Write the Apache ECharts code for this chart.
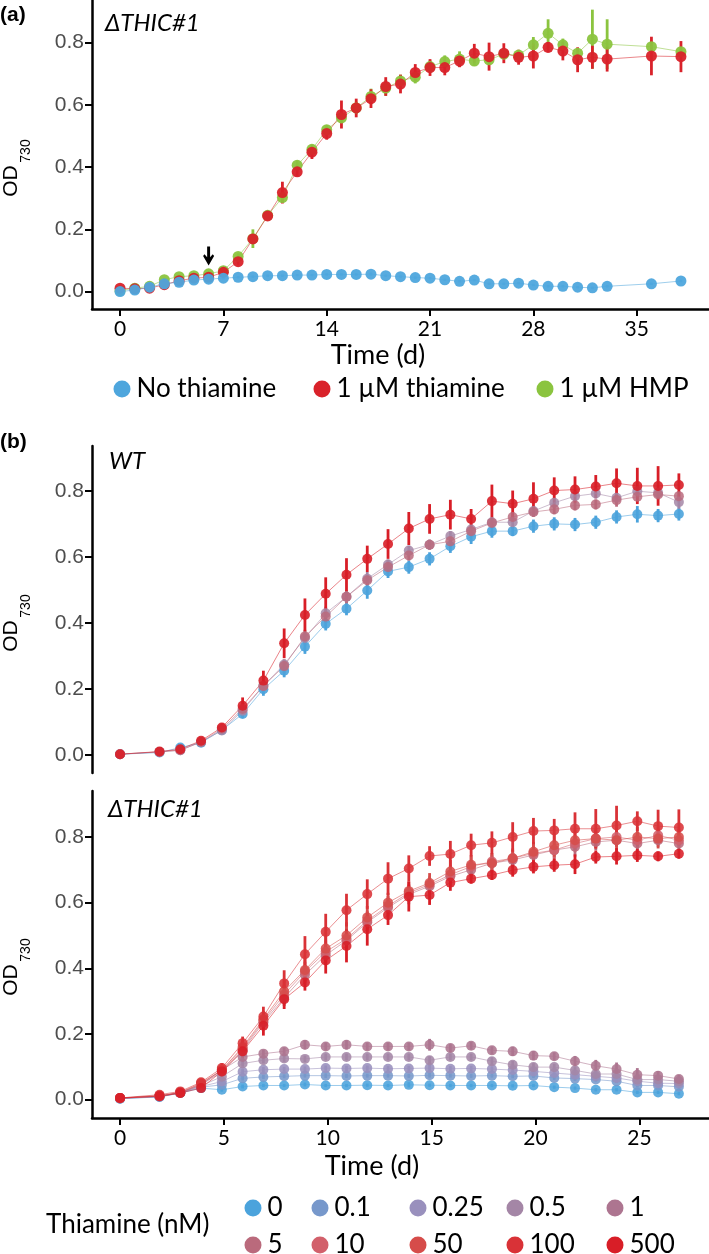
<!DOCTYPE html>
<html>
<head>
<meta charset="utf-8">
<style>
  html, body { margin: 0; padding: 0; background: #fff; }
  #chart { width: 709px; height: 1254px; }
</style>
</head>
<body>
<div id="chart"></div>
<script src="https://cdn.jsdelivr.net/npm/echarts@6.0.0/dist/echarts.min.js"></script>
<script>
// ---- panel (a): dTHIC#1, 1 uM supplements ----
var daysA = [0,1,2,3,4,5,6,7,8,9,10,11,12,13,14,15,16,17,18,19,20,21,22,23,24,25,26,27,28,29,30,31,32,33,36,38];
var noThiamine = [0.000,0.005,0.014,0.025,0.030,0.037,0.040,0.043,0.046,0.048,0.051,0.051,0.053,0.053,0.055,0.055,0.055,0.056,0.051,0.048,0.045,0.043,0.038,0.033,0.037,0.025,0.025,0.027,0.021,0.017,0.017,0.014,0.012,0.017,0.025,0.034];
var noThiamineErr = [0.004,0.004,0.004,0.005,0.004,0.004,0.005,0.004,0.004,0.004,0.004,0.004,0.004,0.004,0.004,0.004,0.004,0.005,0.004,0.004,0.004,0.004,0.004,0.004,0.004,0.004,0.004,0.004,0.004,0.004,0.004,0.004,0.004,0.004,0.004,0.004];
var thiamine1uM = [0.011,0.009,0.011,0.022,0.035,0.043,0.046,0.062,0.096,0.169,0.243,0.318,0.385,0.448,0.508,0.569,0.590,0.620,0.659,0.667,0.704,0.720,0.720,0.741,0.766,0.755,0.766,0.753,0.757,0.785,0.773,0.745,0.753,0.747,0.757,0.755];
var thiamine1uMErr = [0.005,0.005,0.005,0.005,0.005,0.005,0.005,0.008,0.012,0.015,0.015,0.035,0.015,0.022,0.020,0.045,0.030,0.030,0.030,0.030,0.027,0.027,0.025,0.020,0.030,0.045,0.032,0.024,0.040,0.017,0.030,0.040,0.037,0.040,0.062,0.050];
var hmp1uM = [0.003,0.011,0.017,0.038,0.048,0.051,0.057,0.067,0.113,0.170,0.245,0.302,0.406,0.457,0.520,0.558,0.590,0.627,0.654,0.677,0.689,0.723,0.739,0.747,0.741,0.745,0.763,0.760,0.793,0.830,0.793,0.766,0.811,0.795,0.787,0.771];
var hmp1uMErr = [0.004,0.004,0.004,0.006,0.006,0.006,0.006,0.008,0.010,0.030,0.010,0.015,0.015,0.015,0.015,0.015,0.020,0.025,0.025,0.020,0.020,0.020,0.020,0.025,0.015,0.010,0.010,0.015,0.025,0.045,0.020,0.015,0.095,0.080,0.015,0.010];
var ticksA = [0,7,14,21,28,35];

// ---- panel (b): thiamine titration ----
var daysB = [0,1.9,2.9,3.9,4.9,5.9,6.9,7.9,8.9,9.9,10.9,11.9,12.9,13.9,14.9,15.9,16.9,17.9,18.9,19.9,20.9,21.9,22.9,23.9,24.9,25.9,26.9];
var ticksB = [0,5,10,15,20,25];
var ticksY = [0,0.2,0.4,0.6,0.8];
var levels = ['0','0.1','0.25','0.5','1','5','10','50','100','500'];
var levelColors = ['#4BA3DC','#7798CB','#9990BD','#A486A6','#AD7590','#BA6A7C','#D2606B','#D64C4A','#D93237','#D81E27'];

// WT
var wt0 = [0.003,0.008,0.023,0.038,0.076,0.125,0.200,0.256,0.329,0.398,0.444,0.499,0.557,0.570,0.595,0.633,0.662,0.679,0.679,0.694,0.701,0.699,0.706,0.722,0.730,0.726,0.731];
var wt0Err = [0.004,0.005,0.006,0.006,0.008,0.012,0.020,0.020,0.022,0.020,0.020,0.025,0.020,0.020,0.020,0.020,0.022,0.020,0.015,0.020,0.020,0.020,0.020,0.020,0.025,0.020,0.020];
var wt05 = [0.003,0.010,0.015,0.040,0.075,0.135,0.210,0.275,0.355,0.430,0.480,0.535,0.578,0.620,0.638,0.664,0.684,0.706,0.706,0.740,0.765,0.785,0.793,0.780,0.800,0.795,0.767];
var wt05Err = [0.004,0.005,0.005,0.006,0.008,0.010,0.015,0.015,0.020,0.020,0.015,0.020,0.015,0.015,0.015,0.015,0.015,0.015,0.020,0.015,0.015,0.015,0.015,0.015,0.015,0.015,0.020];
var wt5 = [0.003,0.010,0.015,0.040,0.080,0.140,0.210,0.270,0.360,0.420,0.480,0.530,0.570,0.605,0.638,0.648,0.679,0.704,0.722,0.737,0.745,0.757,0.760,0.773,0.783,0.790,0.785];
var wt5Err = [0.004,0.005,0.005,0.006,0.008,0.012,0.015,0.020,0.020,0.020,0.020,0.015,0.020,0.015,0.015,0.015,0.015,0.015,0.015,0.015,0.015,0.015,0.015,0.020,0.015,0.015,0.015];
var wt500 = [0.003,0.011,0.018,0.044,0.084,0.150,0.226,0.339,0.425,0.489,0.547,0.595,0.640,0.687,0.716,0.729,0.716,0.770,0.762,0.777,0.802,0.805,0.814,0.824,0.816,0.816,0.819];
var wt500Err = [0.005,0.005,0.006,0.008,0.012,0.025,0.030,0.045,0.050,0.050,0.050,0.040,0.045,0.050,0.045,0.045,0.030,0.050,0.040,0.050,0.040,0.040,0.035,0.045,0.055,0.060,0.035];

// dTHIC#1
var th0 = [0.003,0.008,0.020,0.035,0.030,0.040,0.043,0.043,0.046,0.043,0.043,0.044,0.043,0.045,0.044,0.043,0.043,0.043,0.042,0.043,0.038,0.035,0.030,0.030,0.022,0.022,0.018];
var th0Err = [0.003,0.004,0.006,0.006,0.006,0.006,0.005,0.005,0.006,0.005,0.005,0.005,0.005,0.008,0.005,0.005,0.005,0.005,0.005,0.005,0.005,0.005,0.005,0.005,0.005,0.005,0.005];
var th01 = [0.003,0.009,0.020,0.038,0.045,0.065,0.069,0.071,0.073,0.073,0.072,0.073,0.073,0.072,0.074,0.073,0.072,0.073,0.071,0.072,0.066,0.064,0.061,0.056,0.043,0.043,0.039];
var th01Err = [0.003,0.004,0.006,0.006,0.006,0.007,0.006,0.006,0.006,0.007,0.006,0.006,0.006,0.006,0.007,0.006,0.006,0.006,0.006,0.006,0.006,0.007,0.006,0.006,0.006,0.006,0.006];
var th025 = [0.004,0.009,0.021,0.040,0.055,0.085,0.091,0.093,0.093,0.096,0.095,0.096,0.094,0.095,0.096,0.094,0.095,0.093,0.090,0.086,0.081,0.076,0.071,0.066,0.056,0.050,0.049];
var th025Err = [0.003,0.004,0.006,0.007,0.008,0.008,0.008,0.007,0.008,0.008,0.008,0.008,0.008,0.008,0.010,0.008,0.008,0.008,0.008,0.008,0.008,0.008,0.008,0.010,0.008,0.008,0.008];
var th05 = [0.004,0.010,0.021,0.042,0.070,0.110,0.120,0.125,0.124,0.130,0.130,0.130,0.130,0.130,0.120,0.130,0.130,0.117,0.106,0.099,0.099,0.089,0.078,0.078,0.061,0.061,0.056];
var th05Err = [0.003,0.004,0.006,0.007,0.008,0.010,0.010,0.010,0.010,0.010,0.010,0.010,0.010,0.010,0.012,0.010,0.010,0.012,0.012,0.012,0.010,0.010,0.012,0.012,0.012,0.010,0.010];
var th1 = [0.005,0.010,0.022,0.045,0.090,0.130,0.140,0.147,0.167,0.162,0.167,0.162,0.162,0.162,0.167,0.157,0.164,0.150,0.147,0.134,0.132,0.117,0.103,0.093,0.076,0.073,0.063];
var th1Err = [0.003,0.004,0.006,0.008,0.010,0.012,0.012,0.012,0.014,0.012,0.014,0.012,0.012,0.012,0.018,0.012,0.012,0.012,0.014,0.014,0.012,0.016,0.018,0.020,0.020,0.014,0.012];
var th5 = [0.004,0.011,0.020,0.045,0.085,0.150,0.235,0.310,0.380,0.440,0.485,0.540,0.585,0.625,0.650,0.680,0.700,0.720,0.730,0.745,0.760,0.770,0.785,0.790,0.780,0.790,0.780];
var th5Err = [0.004,0.005,0.007,0.010,0.012,0.018,0.020,0.025,0.030,0.030,0.030,0.030,0.030,0.030,0.025,0.030,0.025,0.025,0.020,0.025,0.025,0.030,0.025,0.020,0.025,0.020,0.020];
var th10 = [0.004,0.011,0.021,0.048,0.090,0.155,0.240,0.320,0.390,0.450,0.490,0.545,0.590,0.630,0.655,0.685,0.710,0.725,0.735,0.750,0.760,0.780,0.795,0.800,0.790,0.805,0.790];
var th10Err = [0.004,0.005,0.007,0.010,0.012,0.020,0.020,0.030,0.030,0.035,0.035,0.030,0.030,0.025,0.025,0.030,0.030,0.025,0.025,0.030,0.030,0.025,0.025,0.030,0.025,0.025,0.020];
var th50 = [0.005,0.012,0.022,0.050,0.090,0.160,0.245,0.330,0.395,0.460,0.500,0.555,0.600,0.635,0.660,0.695,0.715,0.720,0.735,0.755,0.775,0.790,0.795,0.790,0.800,0.795,0.800];
var th50Err = [0.004,0.005,0.007,0.010,0.015,0.020,0.025,0.035,0.040,0.040,0.040,0.035,0.030,0.030,0.030,0.035,0.030,0.030,0.030,0.030,0.035,0.030,0.030,0.035,0.030,0.030,0.025];
var th100 = [0.005,0.015,0.025,0.053,0.096,0.172,0.253,0.354,0.443,0.511,0.577,0.626,0.673,0.704,0.742,0.748,0.775,0.782,0.800,0.818,0.820,0.825,0.825,0.835,0.848,0.833,0.829];
var th100Err = [0.005,0.005,0.008,0.010,0.015,0.020,0.030,0.040,0.055,0.055,0.050,0.045,0.050,0.040,0.030,0.040,0.035,0.035,0.045,0.040,0.035,0.050,0.060,0.060,0.030,0.050,0.055];
var th500 = [0.005,0.010,0.020,0.035,0.086,0.147,0.225,0.306,0.357,0.424,0.468,0.519,0.562,0.618,0.623,0.661,0.673,0.684,0.699,0.709,0.714,0.717,0.739,0.741,0.744,0.741,0.749];
var th500Err = [0.005,0.005,0.008,0.010,0.012,0.020,0.030,0.030,0.025,0.040,0.050,0.050,0.030,0.045,0.030,0.025,0.015,0.015,0.020,0.020,0.020,0.030,0.020,0.025,0.020,0.015,0.015];

var textFont = 'Lato';
var tickFont = 'Liberation Sans';

function errBar(params, api) {
  var x = api.value(0), y = api.value(1), e = api.value(2);
  var p1 = api.coord([x, y - e]);
  var p2 = api.coord([x, y + e]);
  return {
    type: 'line',
    shape: { x1: p1[0], y1: p1[1], x2: p2[0], y2: p2[1] },
    style: { stroke: api.visual('color'), lineWidth: 2.8, opacity: api.visual('opacity') }
  };
}

var series = [];
function addCurve(name, color, axis, days, vals, errs, size, alpha) {
  series.push({
    type: 'custom', name: name + ' sd', xAxisIndex: axis, yAxisIndex: axis,
    renderItem: errBar, silent: true,
    itemStyle: { color: color, opacity: alpha },
    data: days.map(function (d, i) { return [d, vals[i], errs[i]]; })
  });
  series.push({
    type: 'line', name: name, xAxisIndex: axis, yAxisIndex: axis,
    symbol: 'circle', symbolSize: size, showAllSymbol: true,
    itemStyle: { color: color, opacity: alpha },
    lineStyle: { width: 1, color: color, opacity: 0.55 },
    data: days.map(function (d, i) { return [d, vals[i]]; })
  });
}

// panel a: green under red under blue
addCurve('1 µM HMP', '#8BC43F', 0, daysA, hmp1uM, hmp1uMErr, 11, 0.95);
addCurve('1 µM thiamine', '#D9222A', 0, daysA, thiamine1uM, thiamine1uMErr, 11, 0.95);
addCurve('No thiamine', '#4EA6DD', 0, daysA, noThiamine, noThiamineErr, 11, 0.95);
// arrow marking the supplement addition
series[3].markPoint = {
  silent: true,
  symbol: 'path://M3.5,0 L6.5,0 L6.5,10 L9.2,7.2 L10.6,8.8 L5,18 L-0.6,8.8 L0.8,7.2 L3.5,10 Z',
  symbolSize: [11, 19],
  itemStyle: { color: '#000', opacity: 1 },
  label: { show: false },
  data: [{ coord: [6, 0.114] }]
};

// WT
addCurve('0', levelColors[0], 1, daysB, wt0, wt0Err, 10, 0.9);
addCurve('0.5', levelColors[3], 1, daysB, wt05, wt05Err, 10, 0.85);
addCurve('5', levelColors[5], 1, daysB, wt5, wt5Err, 10, 0.85);
addCurve('500', levelColors[9], 1, daysB, wt500, wt500Err, 10, 0.9);

// dTHIC#1
var thVals = [th0, th01, th025, th05, th1, th5, th10, th50, th100, th500];
var thErrs = [th0Err, th01Err, th025Err, th05Err, th1Err, th5Err, th10Err, th50Err, th100Err, th500Err];
levels.forEach(function (lv, k) {
  addCurve(lv, levelColors[k], 2, daysB, thVals[k], thErrs[k], 10, 0.88);
});

function yAxisFor(idx, min, max) {
  return {
    type: 'value', gridIndex: idx, min: min, max: max,
    axisLine: { show: true, onZero: false, lineStyle: { color: '#000', width: 2.5 } },
    axisTick: { show: true, length: 7, customValues: ticksY, lineStyle: { color: '#000', width: 2 } },
    axisLabel: {
      customValues: ticksY, margin: 8, color: '#4D4D4D', fontFamily: tickFont, fontSize: 21,
      formatter: function (v) { return v.toFixed(1); }
    },
    splitLine: { show: false }
  };
}
function xAxisFor(idx, min, max, ticks, visible) {
  return {
    type: 'value', gridIndex: idx, min: min, max: max, show: visible,
    axisLine: { show: true, onZero: false, lineStyle: { color: '#000', width: 2.5 } },
    axisTick: { show: true, length: 7, customValues: ticks, lineStyle: { color: '#000', width: 2 } },
    axisLabel: { customValues: ticks, margin: 10, color: '#000', fontFamily: textFont, fontSize: 21 },
    splitLine: { show: false }
  };
}

function legendItem(name, cx, cy) {
  return {
    data: [name], left: cx - 8.5, top: cy - 15, padding: 0,
    icon: 'circle', itemWidth: 17, itemHeight: 17, selectedMode: false,
    itemStyle: { opacity: 1 },
    textStyle: { fontFamily: textFont, fontSize: 26, color: '#000', lineHeight: 30, padding: [0, 0, 0, 1] }
  };
}
var legends = [
  legendItem('No thiamine', 122, 389),
  legendItem('1 µM thiamine', 322, 389),
  legendItem('1 µM HMP', 545, 389)
];
var colX = [253, 320, 418, 515, 615];
levels.forEach(function (lv, k) {
  legends.push(legendItem(lv, colX[k % 5], k < 5 ? 1208 : 1245));
});

function odLabel(cy) {
  return [
    { type: 'text', x: 11, y: cy + 14, rotation: Math.PI / 2,
      style: { text: 'OD', fontFamily: tickFont, fontSize: 21, fill: '#000', align: 'center', verticalAlign: 'middle' } },
    { type: 'text', x: 26, y: cy - 16, rotation: Math.PI / 2,
      style: { text: '730', fontFamily: tickFont, fontSize: 14, fill: '#000', align: 'center', verticalAlign: 'middle' } }
  ];
}

var graphics = [
  { type: 'text', left: 0, top: 5, style: { text: '(a)', fontFamily: 'Liberation Sans', fontWeight: 'bold', fontSize: 21, fill: '#000' } },
  { type: 'text', left: 0, top: 432, style: { text: '(b)', fontFamily: 'Liberation Sans', fontWeight: 'bold', fontSize: 21, fill: '#000' } },
  { type: 'text', left: 105, top: 11, style: { text: 'ΔTHIC#1', fontFamily: textFont, fontStyle: 'italic', fontSize: 24, fill: '#000' } },
  { type: 'text', left: 109, top: 449, style: { text: 'WT', fontFamily: textFont, fontStyle: 'italic', fontSize: 24, fill: '#000' } },
  { type: 'text', left: 108, top: 797, style: { text: 'ΔTHIC#1', fontFamily: textFont, fontStyle: 'italic', fontSize: 24, fill: '#000' } },
  { type: 'text', x: 378, y: 355, style: { text: 'Time (d)', fontFamily: textFont, fontSize: 27, fill: '#000', align: 'center', verticalAlign: 'middle' } },
  { type: 'text', x: 372, y: 1166, style: { text: 'Time (d)', fontFamily: textFont, fontSize: 27, fill: '#000', align: 'center', verticalAlign: 'middle' } },
  { type: 'text', x: 46, y: 1225, style: { text: 'Thiamine (nM)', fontFamily: textFont, fontSize: 26, fill: '#000', align: 'left', verticalAlign: 'middle' } }
].concat(odLabel(167), odLabel(622), odLabel(966));

var chart = echarts.init(document.getElementById('chart'), null, { renderer: 'canvas' });
chart.setOption({
  animation: false,
  backgroundColor: '#fff',
  grid: [
    { left: 92, top: 0, width: 625, height: 309 },
    { left: 92, top: 446, width: 621, height: 327 },
    { left: 92, top: 791, width: 621, height: 327 }
  ],
  xAxis: [
    xAxisFor(0, -1.9, 39.9, ticksA, true),
    xAxisFor(1, -1.35, 28.35, ticksB, false),
    xAxisFor(2, -1.35, 28.35, ticksB, true)
  ],
  yAxis: [
    yAxisFor(0, -0.056, 0.937),
    yAxisFor(1, -0.054, 0.937),
    yAxisFor(2, -0.056, 0.94)
  ],
  legend: legends,
  graphic: graphics,
  series: series
});
</script>
</body>
</html>
